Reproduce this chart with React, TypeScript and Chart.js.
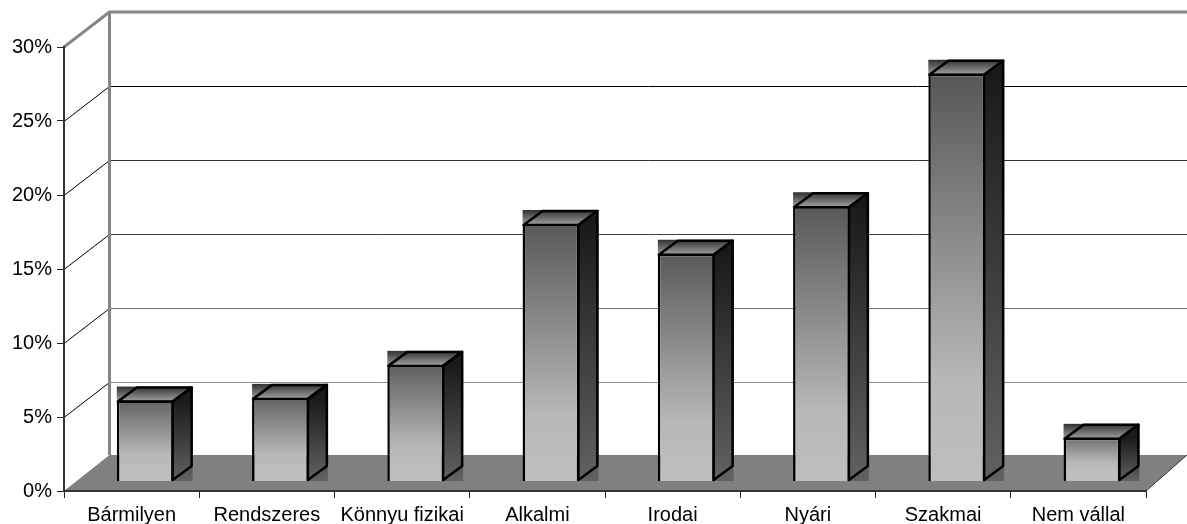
import React, { useEffect, useRef } from "react";
import { Chart, registerables } from "chart.js";

Chart.register(...registerables);

const categories = ["Bármilyen", "Rendszeres", "Könnyu fizikai", "Alkalmi", "Irodai", "Nyári", "Szakmai", "Nem vállal"];
const values = [5.47, 5.65, 7.88, 17.4, 15.39, 18.6, 27.55, 2.95];
const yMax = 30;
const yStep = 5;
const gridColors: Record<number, string> = { 5: "#8c8c8c", 10: "#707070", 15: "#404040", 20: "#303030", 25: "#000000" };

const WALL_DX = 45.5;
const WALL_DY = 35;
const FLOOR_DY = 36;
const BAR_DX = 13.6;
const BAR_DY = 9.5;
const SIDE_DX = 19;
const SIDE_DY = 14;
const FONT = "'Liberation Sans', Arial, sans-serif";

function vGrad(ctx: CanvasRenderingContext2D, y0: number, y1: number, stops: [number, string][]) {
  const g = ctx.createLinearGradient(0, y0, 0, y1);
  stops.forEach(([o, c]) => g.addColorStop(o, c));
  return g;
}

const frontStops: [number, string][] = [[0, "#545454"], [0.78, "#b8b8b8"], [1, "#bebebe"]];
const sideStops: [number, string][] = [[0, "#1a1a1a"], [1, "#626262"]];
const topStops: [number, string][] = [[0, "#303030"], [1, "#9a9a9a"]];

const scenePlugin = {
  id: "scene3d",
  beforeDraw(chart: any) {
    const { ctx, chartArea: a, scales } = chart;
    const W = chart.width;
    const backTop = a.top - WALL_DY;
    const backLeft = a.left + WALL_DX;
    const floorBack = a.bottom - FLOOR_DY;
    ctx.save();
    ctx.fillStyle = "#808080";
    ctx.beginPath();
    ctx.moveTo(a.left, a.bottom);
    ctx.lineTo(backLeft, floorBack);
    ctx.lineTo(W, floorBack);
    ctx.lineTo(a.right, a.bottom);
    ctx.closePath();
    ctx.fill();
    ctx.lineWidth = 1;
    scales.y.ticks.forEach((t: any, i: number) => {
      if (t.value <= 0 || t.value >= yMax) return;
      const y = Math.round(scales.y.getPixelForTick(i)) + 0.5;
      ctx.strokeStyle = "#000";
      ctx.beginPath();
      ctx.moveTo(a.left, y);
      ctx.lineTo(backLeft, y - WALL_DY);
      ctx.stroke();
      ctx.strokeStyle = gridColors[t.value] || "#000";
      ctx.beginPath();
      ctx.moveTo(backLeft, y - WALL_DY);
      ctx.lineTo(W, y - WALL_DY);
      ctx.stroke();
    });
    ctx.strokeStyle = "#333";
    ctx.lineWidth = 1;
    ctx.beginPath();
    ctx.moveTo(a.right, a.bottom);
    ctx.lineTo(W, floorBack);
    ctx.stroke();
    ctx.strokeStyle = "#868686";
    ctx.lineWidth = 3;
    ctx.beginPath();
    ctx.moveTo(a.left, a.top);
    ctx.lineTo(backLeft, backTop);
    ctx.lineTo(W, backTop);
    ctx.moveTo(backLeft, backTop);
    ctx.lineTo(backLeft, floorBack);
    ctx.stroke();
    ctx.restore();
  },
  beforeDatasetsDraw(chart: any) {
    const { ctx } = chart;
    const meta = chart.getDatasetMeta(0);
    ctx.save();
    meta.data.forEach((bar: any) => {
      const half = bar.width / 2;
      const L = bar.x - half + BAR_DX;
      const R = bar.x + half + BAR_DX;
      const T = bar.y - BAR_DY;
      const B = bar.base - BAR_DY;
      ctx.fillStyle = vGrad(ctx, T, B, sideStops);
      ctx.fillRect(R - 1, T, SIDE_DX + 1, B - T);
      ctx.fillStyle = vGrad(ctx, T - SIDE_DY, T, topStops);
      ctx.fillRect(L, T - SIDE_DY, R - L + SIDE_DX, SIDE_DY + 1);
      ctx.fillStyle = vGrad(ctx, T, B, sideStops);
      ctx.beginPath();
      ctx.moveTo(R - 1, T + 1);
      ctx.lineTo(R - 1 + SIDE_DX, T + 1 - SIDE_DY);
      ctx.lineTo(R - 1 + SIDE_DX, B - 1 - SIDE_DY);
      ctx.lineTo(R - 1, B - 1);
      ctx.closePath();
      ctx.fill();
      ctx.strokeStyle = "#000";
      ctx.lineWidth = 2.5;
      ctx.lineJoin = "round";
      ctx.stroke();
      ctx.beginPath();
      ctx.moveTo(L + 1, T + 1);
      ctx.lineTo(L + 1 + SIDE_DX, T + 1 - SIDE_DY);
      ctx.lineTo(R - 1 + SIDE_DX, T + 1 - SIDE_DY);
      ctx.lineTo(R - 1, T + 1);
      ctx.closePath();
      ctx.stroke();
    });
    ctx.restore();
  },
  beforeDatasetDraw(chart: any) {
    chart.ctx.save();
    chart.ctx.translate(BAR_DX, -BAR_DY);
  },
  afterDatasetDraw(chart: any) {
    chart.ctx.restore();
  },
};

export default function App() {
  const ref = useRef<HTMLCanvasElement>(null);
  useEffect(() => {
    const chart = new Chart(ref.current!, {
      type: "bar",
      data: {
        labels: categories,
        datasets: [
          {
            data: values,
            clip: false,
            barPercentage: 0.42,
            categoryPercentage: 1,
            borderColor: "#000",
            borderWidth: 2.5,
            backgroundColor: (c: any) => {
              const { chart: ch, raw } = c;
              if (!ch.chartArea || raw === undefined) return "#888";
              const yS = ch.scales.y;
              return vGrad(ch.ctx, yS.getPixelForValue(raw) - BAR_DY, yS.getPixelForValue(0) - BAR_DY, frontStops);
            },
          },
        ],
      } as any,
      options: {
        responsive: false,
        animation: false,
        layout: { padding: { left: 0, right: 41, top: 47, bottom: 0 } },
        plugins: { legend: { display: false }, tooltip: { enabled: false }, title: { display: false } },
        scales: {
          x: {
            afterFit: (s: any) => { s.height = 33; },
            grid: { offset: true, drawOnChartArea: false, drawTicks: true, tickLength: 7, color: "#222", lineWidth: 1 },
            border: { color: "#333", width: 2 },
            ticks: { color: "#000", font: { family: FONT, size: 20 }, padding: 5, autoSkip: false, maxRotation: 0 },
          },
          y: {
            min: 0,
            max: yMax,
            afterFit: (s: any) => { s.width = 64; },
            grid: { drawOnChartArea: false, drawTicks: true, tickLength: 7, color: "#222", lineWidth: 1 },
            border: { color: "#333", width: 2 },
            ticks: {
              stepSize: yStep,
              color: "#000",
              font: { family: FONT, size: 20 },
              padding: 5,
              callback: (v: any) => v + "%",
            },
          },
        },
      } as any,
      plugins: [scenePlugin],
    });
    return () => chart.destroy();
  }, []);
  return (
    <div style={{ position: "absolute", left: 0, top: 0, width: 1187, height: 524, overflow: "hidden", background: "#fff" }}>
      <canvas ref={ref} width={1187} height={524} style={{ display: "block" }} />
    </div>
  );
}
